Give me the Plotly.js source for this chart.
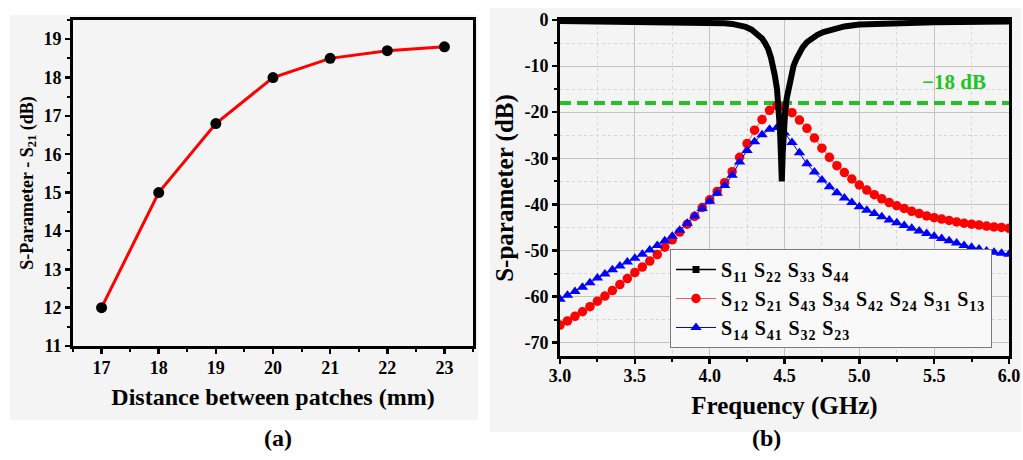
<!DOCTYPE html>
<html><head><meta charset="utf-8">
<script src="https://cdn.plot.ly/plotly-3.0.1.min.js"></script>
<style>body{margin:0;background:#fff}#chart{width:1023px;height:460px}
.legendtext{letter-spacing:0.9px}</style>
</head><body><div id="chart"></div>
<script>
// ---- Panel (a) ----
const distanceMm = [17, 18, 19, 20, 21, 22, 23];
const s21VsDistanceDb = [12, 15, 16.8, 18, 18.5, 18.7, 18.8];

// ---- Panel (b) ----
const s11FreqGHz = [3.00, 3.50, 3.80, 4.00, 4.10, 4.15, 4.20, 4.24, 4.28, 4.32, 4.35, 4.37, 4.39, 4.41, 4.425,
  4.435, 4.45, 4.46, 4.47, 4.477, 4.482, 4.488, 4.495, 4.505, 4.515, 4.53, 4.545, 4.56, 4.58, 4.60, 4.62, 4.65,
  4.68, 4.72, 4.76, 4.82, 4.90, 5.00, 5.20, 5.50, 6.00];
const s11Db = [-0.2, -0.3, -0.4, -0.5, -0.7, -0.85, -1.1, -1.5, -2.1, -3.0, -4.0, -5.0, -6.2, -8.2, -10.0,
  -12.0, -15.0, -18.5, -24.0, -30.0, -35.0, -29.0, -24.0, -19.5, -17.0, -14.0, -11.8, -10.0, -8.4, -7.0, -6.0, -4.8,
  -4.0, -3.2, -2.6, -2.0, -1.4, -1.0, -0.7, -0.5, -0.35];

const freqGHz = [3.00, 3.05, 3.10, 3.15, 3.20, 3.25, 3.30, 3.35, 3.40, 3.45, 3.50, 3.55, 3.60, 3.65, 3.70, 3.75,
  3.80, 3.85, 3.90, 3.95, 4.00, 4.05, 4.10, 4.15, 4.20, 4.25, 4.30, 4.35, 4.40, 4.45, 4.50, 4.55, 4.60, 4.65,
  4.70, 4.75, 4.80, 4.85, 4.90, 4.95, 5.00, 5.05, 5.10, 5.15, 5.20, 5.25, 5.30, 5.35, 5.40, 5.45, 5.50, 5.55,
  5.60, 5.65, 5.70, 5.75, 5.80, 5.85, 5.90, 5.95, 6.00];
const s12Db = [-66.2, -65.3, -64.3, -63.3, -62.2, -61.0, -59.9, -58.7, -57.4, -56.1, -54.8, -53.6, -52.3, -50.9,
  -49.3, -47.7, -46.0, -44.3, -42.6, -40.7, -39.0, -37.2, -35.3, -32.9, -29.8, -26.8, -23.9, -21.6, -19.6, -18.6,
  -18.8, -20.1, -21.7, -23.5, -25.6, -27.8, -29.8, -31.6, -33.1, -34.5, -35.8, -36.9, -37.9, -38.8, -39.6, -40.3,
  -40.9, -41.5, -42.0, -42.5, -42.9, -43.2, -43.5, -43.8, -44.1, -44.3, -44.5, -44.7, -44.9, -45.0, -45.2];
const s14Db = [-60.6, -59.7, -58.9, -58.0, -57.0, -56.0, -55.1, -54.2, -53.4, -52.5, -51.7, -50.8, -49.9, -48.9,
  -47.9, -46.9, -45.6, -44.1, -42.5, -40.9, -39.3, -37.6, -35.9, -33.7, -30.8, -28.3, -26.4, -24.9, -23.7, -23.3,
  -24.5, -26.6, -28.8, -31.2, -33.0, -34.7, -36.2, -37.5, -38.6, -39.6, -40.5, -41.3, -42.0, -42.7, -43.4, -44.0,
  -44.6, -45.2, -45.8, -46.3, -46.9, -47.4, -47.9, -48.4, -48.9, -49.3, -49.7, -50.1, -50.4, -50.6, -50.8];

const thresholdDb = -18;
const thresholdLabel = '\u221218 dB';
const freqRange = [3, 6];

const legendNames = [
  'S<sub>11</sub> S<sub>22</sub> S<sub>33</sub> S<sub>44</sub>',
  'S<sub>12</sub> S<sub>21</sub> S<sub>43</sub> S<sub>34</sub> S<sub>42</sub> S<sub>24</sub> S<sub>31</sub> S<sub>13</sub>',
  'S<sub>14</sub> S<sub>41</sub> S<sub>32</sub> S<sub>23</sub>'
];
const yTicksB = [0, -10, -20, -30, -40, -50, -60, -70];
const yTickLabelsB = ['0', '-10', '-20', '-30', '-40', '-50', '-60', '-70'];

const FONT = 'Liberation Serif, Times New Roman, serif';
const bold = (size, color) => ({family: FONT, size: size, color: color || '#000', weight: 700});

const data = [
  // panel a
  {x: distanceMm, y: s21VsDistanceDb, xaxis: 'x', yaxis: 'y', mode: 'lines+markers', showlegend: false,
   line: {color: '#ff0000', width: 3}, marker: {color: '#000', size: 11, symbol: 'circle'}},
  // panel b legend entry for S11 group
  {x: [null], y: [null], xaxis: 'x2', yaxis: 'y2', mode: 'lines+markers', name: legendNames[0],
   line: {color: '#000', width: 1.5}, marker: {color: '#000', size: 7, symbol: 'square'}},
  // threshold line
  {x: freqRange, y: [thresholdDb, thresholdDb], xaxis: 'x2', yaxis: 'y2', mode: 'lines', showlegend: false,
   line: {color: '#22c422', width: 4, dash: '11px,6px'}},
  {x: freqGHz, y: s12Db, xaxis: 'x2', yaxis: 'y2', mode: 'lines+markers', name: legendNames[1],
   line: {color: '#ff5a5a', width: 1}, marker: {color: '#ff0000', size: 9.5, symbol: 'circle'}},
  {x: freqGHz, y: s14Db, xaxis: 'x2', yaxis: 'y2', mode: 'lines+markers', name: legendNames[2],
   line: {color: '#0000ff', width: 1}, marker: {color: '#0000ff', size: 10, symbol: 'triangle-up'}},
  {x: s11FreqGHz, y: s11Db, xaxis: 'x2', yaxis: 'y2', mode: 'lines', showlegend: false,
   line: {color: '#000', width: 6, shape: 'linear'}}
];

const axisCommon = {
  ticks: 'outside', ticklen: 5, tickwidth: 2.5, tickcolor: '#000',
  showline: true, linewidth: 3, linecolor: '#000', mirror: true,
  zeroline: false, tickfont: bold(18)
};

const layout = {
  width: 1023, height: 460, autosize: false,
  margin: {l: 0, r: 0, t: 0, b: 0},
  paper_bgcolor: '#ffffff', plot_bgcolor: 'rgba(0,0,0,0)',
  showlegend: true,
  xaxis: Object.assign({}, axisCommon, {
    domain: [73 / 1023, 473 / 1023], anchor: 'y', range: [16.5, 23.5], dtick: 1, tick0: 17, showgrid: false,
    ticklabelstandoff: -2,
    minor: {dtick: 0.5, tick0: 16.5, ticks: 'outside', ticklen: 3, tickwidth: 2, tickcolor: '#000'},
    title: {text: 'Distance between patches (mm)', font: bold(24), standoff: 12}
  }),
  yaxis: Object.assign({}, axisCommon, {
    domain: [114 / 460, 440 / 460], anchor: 'x', range: [11, 19.5], dtick: 1, tick0: 11, showgrid: false,
    minor: {dtick: 0.5, tick0: 11, ticks: 'outside', ticklen: 3, tickwidth: 2, tickcolor: '#000'},
    title: {text: 'S-Parameter - S<sub>21</sub> (dB)', font: bold(18), standoff: 6}
  }),
  xaxis2: Object.assign({}, axisCommon, {
    domain: [560 / 1023, 1009 / 1023], anchor: 'y2', range: freqRange, dtick: 0.5, tick0: 3, tickformat: '.1f',
    ticklabelstandoff: -4,
    showgrid: true, gridcolor: '#c3c3c3', gridwidth: 1,
    minor: {dtick: 0.25, tick0: 3, ticks: 'outside', ticklen: 3, tickwidth: 2, tickcolor: '#000',
            showgrid: true, gridcolor: '#d6d6d6', gridwidth: 1, griddash: 'dot'},
    title: {text: 'Frequency (GHz)', font: bold(25), standoff: 12}
  }),
  yaxis2: Object.assign({}, axisCommon, {
    domain: [104 / 460, 440 / 460], anchor: 'x2', range: [-72.9, 0],
    tickmode: 'array', tickvals: yTicksB, ticktext: yTickLabelsB,
    showgrid: true, gridcolor: '#c3c3c3', gridwidth: 1,
    minor: {tickmode: 'linear', dtick: 5, tick0: 0, ticks: 'outside', ticklen: 3, tickwidth: 2, tickcolor: '#000',
            showgrid: true, gridcolor: '#d6d6d6', gridwidth: 1, griddash: 'dot'},
    title: {text: 'S-parameter (dB)', font: bold(25), standoff: 4}
  }),
  legend: {
    x: 670 / 1023, y: 112 / 460, xanchor: 'left', yanchor: 'bottom',
    bgcolor: '#f9f9f9', bordercolor: '#7a7a7a', borderwidth: 1,
    font: bold(20), itemwidth: 40, tracegroupgap: 0, traceorder: 'normal'
  },
  shapes: [
    {type: 'rect', xref: 'paper', yref: 'paper', x0: 10 / 1023, x1: 478 / 1023, y0: 40 / 460, y1: 445 / 460,
     fillcolor: '#f4f4f4', line: {width: 0}, layer: 'below'},
    {type: 'rect', xref: 'paper', yref: 'paper', x0: 490 / 1023, x1: 1021 / 1023, y0: 28 / 460, y1: 452 / 460,
     fillcolor: '#f4f4f4', line: {width: 0}, layer: 'below'}
  ],
  annotations: [
    {xref: 'x2', yref: 'y2', x: 5.63, y: -13.5, text: thresholdLabel, showarrow: false, font: bold(21, '#22c422')},
    {xref: 'paper', yref: 'paper', x: 262 / 1023, y: 22 / 460, yanchor: 'middle', text: '(a)', showarrow: false, font: bold(24)},
    {xref: 'paper', yref: 'paper', x: 783 / 1023, y: 22 / 460, yanchor: 'middle', text: '(b)', showarrow: false, font: bold(24)}
  ]
};

Plotly.newPlot('chart', data, layout, {displayModeBar: false, staticPlot: true});
</script>
</body></html>
